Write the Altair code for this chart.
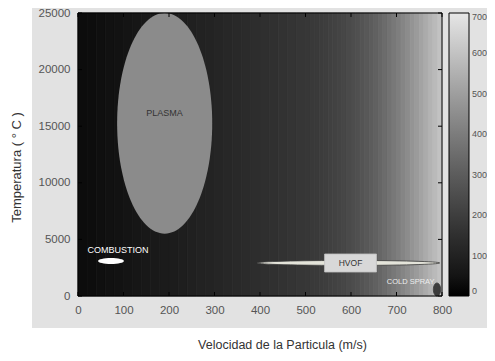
import altair as alt
import pandas as pd

# ---- axis limits / ticks ----
x_limits = [0, 800]
y_limits = [0, 25000]
x_ticks = [0, 100, 200, 300, 400, 500, 600, 700, 800]
y_ticks = [0, 5000, 10000, 15000, 20000, 25000]
cbar_limits = [0, 700]
cbar_ticks = [0, 100, 200, 300, 400, 500, 600, 700]

# ---- background field: velocity bins and grey level ----
vel_start = [0, 20, 40, 60, 80, 100, 120, 140, 160, 180, 200, 220, 240, 260, 280, 300, 320, 340, 360, 380,
             400, 420, 440, 460, 480, 500, 510, 520, 530, 540, 550, 560, 570, 580, 590, 600, 610, 620, 630,
             640, 650, 660, 670, 680, 690, 700, 710, 720, 730, 740, 750, 760, 770, 780, 790]
vel_end = [20, 40, 60, 80, 100, 120, 140, 160, 180, 200, 220, 240, 260, 280, 300, 320, 340, 360, 380, 400,
           420, 440, 460, 480, 500, 510, 520, 530, 540, 550, 560, 570, 580, 590, 600, 610, 620, 630, 640,
           650, 660, 670, 680, 690, 700, 710, 720, 730, 740, 750, 760, 770, 780, 790, 800]
level = [25, 28, 33, 38, 43, 50, 56, 62, 68, 74, 80, 86, 93, 100, 107, 114, 120, 127, 134, 141,
         148, 154, 160, 166, 172, 178, 183, 188, 194, 200, 207, 214, 222, 230, 240, 250, 261, 274, 287,
         301, 316, 332, 349, 367, 386, 406, 427, 448, 470, 492, 514, 536, 558, 580, 602]

# ---- process regions (ellipses): extents in data units ----
ell_name = ["PLASMA", "COMBUSTION", "HVOF", "COLD SPRAY"]
ell_xmin = [86, 44, 394, 781]
ell_xmax = [295, 101, 795, 797]
ell_ymin = [5500, 2830, 2700, 0]
ell_ymax = [25000, 3360, 3140, 1150]
ell_fill = ["#8b8b8b", "#ffffff", "#e4e4da", "#3c3c3c"]
ell_outlined = [False, False, True, True]

# ---- HVOF label box ----
box_x0 = [542]
box_x1 = [656]
box_y0 = [2120]
box_y1 = [3710]

# ---- labels ----
lab_text = ["PLASMA", "COMBUSTION", "HVOF", "COLD SPRAY"]
lab_x = [190, 88, 599, 731]
lab_y = [16200, 4064, 2915, 1250]
lab_color = ["#333333", "#ffffff", "#333333", "#eeeeee"]
lab_size = [9, 9, 8.5, 7.5]

W, H = 364, 283
FONT = "Liberation Sans"
TICK = 4

xs = alt.Scale(domain=x_limits, nice=False, zero=False)
ys = alt.Scale(domain=y_limits, nice=False, zero=False)
cs = alt.Scale(domain=cbar_limits, range=["#000000", "#e6e6e6"], clamp=True)
# same ramp for the cell edges (domain nudged so it gets no legend of its own)
cs_edge = alt.Scale(domain=[cbar_limits[0] - 0.001, cbar_limits[1]], range=["#000000", "#e6e6e6"], clamp=True)

heat_df = pd.DataFrame({"v0": vel_start, "v1": vel_end, "level": level})
heat_df["edge"] = heat_df["level"]
heat_df["t0"] = y_limits[0]
heat_df["t1"] = y_limits[1]

rows = []
for i in range(len(ell_name)):
    wpx = (ell_xmax[i] - ell_xmin[i]) * W / (x_limits[1] - x_limits[0])
    hpx = (ell_ymax[i] - ell_ymin[i]) * H / (y_limits[1] - y_limits[0])
    a = hpx / wpx
    path = f"M -1 0 A 1 {a:.4f} 0 1 1 1 0 A 1 {a:.4f} 0 1 1 -1 0 Z"
    rows.append({"name": ell_name[i], "cx": (ell_xmin[i] + ell_xmax[i]) / 2,
                 "cy": (ell_ymin[i] + ell_ymax[i]) / 2, "path": path,
                 "size": wpx * wpx, "fill": ell_fill[i], "outlined": ell_outlined[i]})
ell_df = pd.DataFrame(rows)

box_df = pd.DataFrame({"x0": box_x0, "x1": box_x1, "y0": box_y0, "y1": box_y1})
lab_df = pd.DataFrame({"text": lab_text, "lx": lab_x, "ly": lab_y, "col": lab_color, "fs": lab_size})
frame_df = pd.DataFrame({"x0": [x_limits[0]], "x1": [x_limits[1]], "y0": [y_limits[0]], "y1": [y_limits[1]]})
xt_df = pd.DataFrame({"xt": x_ticks})
yt_df = pd.DataFrame({"yt": y_ticks})

# grey figure panel behind everything
panel = alt.Chart(alt.Data(values=[{"k": 1}])).mark_rect(color="#e2e2e2").encode(
    x=alt.value(-46), x2=alt.value(420), y=alt.value(-5), y2=alt.value(315)
)

main_x_axis = alt.Axis(values=x_ticks, ticks=False, domain=False, grid=False, labelPadding=8,
                       labelFlush=False, labelFont=FONT, labelFontSize=11.5, labelColor="#555555",
                       format="d",
                       title="Velocidad de la Particula (m/s)", titleFont=FONT, titleFontSize=12.5,
                       titleFontWeight="normal", titleColor="#333333", titleX=204, titleY=42,
                       zindex=1)
main_y_axis = alt.Axis(values=y_ticks, ticks=False, domain=False, grid=False, labelPadding=8,
                       labelFlush=False, labelFont=FONT, labelFontSize=11.5, labelColor="#555555",
                       format="d",
                       title="Temperatura ( ° C )", titleFont=FONT, titleFontSize=13,
                       titleFontWeight="normal", titleColor="#333333", titleX=-55, titleY=154,
                       zindex=1)

leg = alt.Legend(type="gradient", orient="none", legendX=W + 7, legendY=0, direction="vertical",
                 title=None, gradientLength=H, gradientThickness=20, gradientStrokeColor="#000000",
                 gradientStrokeWidth=1, values=cbar_ticks, labelOffset=3, labelFont=FONT,
                 labelFontSize=9, labelColor="#555555", labelBaseline="middle",
                 labelOverlap=False, zindex=1)

heat = alt.Chart(heat_df).mark_rect(strokeWidth=0.8).encode(
    x=alt.X("v0:Q", scale=xs, axis=main_x_axis),
    x2="v1:Q",
    y=alt.Y("t0:Q", scale=ys, axis=main_y_axis),
    y2="t1:Q",
    color=alt.Color("level:Q", scale=cs, legend=leg),
    stroke=alt.Stroke("edge:Q", scale=cs_edge, legend=None),
)

ell_plain = alt.Chart(ell_df).transform_filter("!datum.outlined").mark_point(
    filled=True, opacity=1, strokeWidth=0).encode(
    x=alt.X("cx:Q", scale=xs, axis=None),
    y=alt.Y("cy:Q", scale=ys, axis=None),
    shape=alt.Shape("path:N", scale=None),
    size=alt.Size("size:Q", scale=None),
    fill=alt.Fill("fill:N", scale=None),
)
ell_line = alt.Chart(ell_df).transform_filter("datum.outlined").mark_point(
    filled=True, opacity=1, stroke="#3a3a3a", strokeWidth=0.8).encode(
    x=alt.X("cx:Q", scale=xs, axis=None),
    y=alt.Y("cy:Q", scale=ys, axis=None),
    shape=alt.Shape("path:N", scale=None),
    size=alt.Size("size:Q", scale=None),
    fill=alt.Fill("fill:N", scale=None),
)

box = alt.Chart(box_df).mark_rect(color="#d8d8d8", stroke="#c2c2c2", strokeWidth=0.8).encode(
    x=alt.X("x0:Q", scale=xs, axis=None), x2="x1:Q",
    y=alt.Y("y0:Q", scale=ys, axis=None), y2="y1:Q",
)

labels = alt.Chart(lab_df).mark_text(font=FONT, align="center", baseline="middle").encode(
    x=alt.X("lx:Q", scale=xs, axis=None),
    y=alt.Y("ly:Q", scale=ys, axis=None),
    text="text:N",
    fill=alt.Fill("col:N", scale=None),
    size=alt.Size("fs:Q", scale=None),
)

frame = alt.Chart(frame_df).mark_rect(fillOpacity=0, stroke="#000000", strokeWidth=1).encode(
    x=alt.X("x0:Q", scale=xs, axis=None), x2="x1:Q",
    y=alt.Y("y0:Q", scale=ys, axis=None), y2="y1:Q",
)

# inward tick marks on all four sides
tick_bottom = alt.Chart(xt_df).mark_rule(color="#000000", strokeWidth=1).encode(
    x=alt.X("xt:Q", scale=xs, axis=None), y=alt.value(H - TICK), y2=alt.value(H))
tick_top = alt.Chart(xt_df).mark_rule(color="#000000", strokeWidth=1).encode(
    x=alt.X("xt:Q", scale=xs, axis=None), y=alt.value(0), y2=alt.value(TICK))
tick_left = alt.Chart(yt_df).mark_rule(color="#000000", strokeWidth=1).encode(
    y=alt.Y("yt:Q", scale=ys, axis=None), x=alt.value(0), x2=alt.value(TICK))
tick_right = alt.Chart(yt_df).mark_rule(color="#000000", strokeWidth=1).encode(
    y=alt.Y("yt:Q", scale=ys, axis=None), x=alt.value(W - TICK), x2=alt.value(W))

chart = alt.layer(panel, heat, ell_plain, ell_line, box, labels, frame,
                  tick_bottom, tick_top, tick_left, tick_right).resolve_axis(
    x="independent", y="independent"
).properties(
    width=W, height=H, background="#ffffff",
    autosize=alt.AutoSizeParams(type="none"),
    padding={"left": 70, "top": 5, "right": 45, "bottom": 57},
).configure_view(strokeWidth=0)

chart.save("out.html", embed_options={"renderer": "svg", "actions": False})
